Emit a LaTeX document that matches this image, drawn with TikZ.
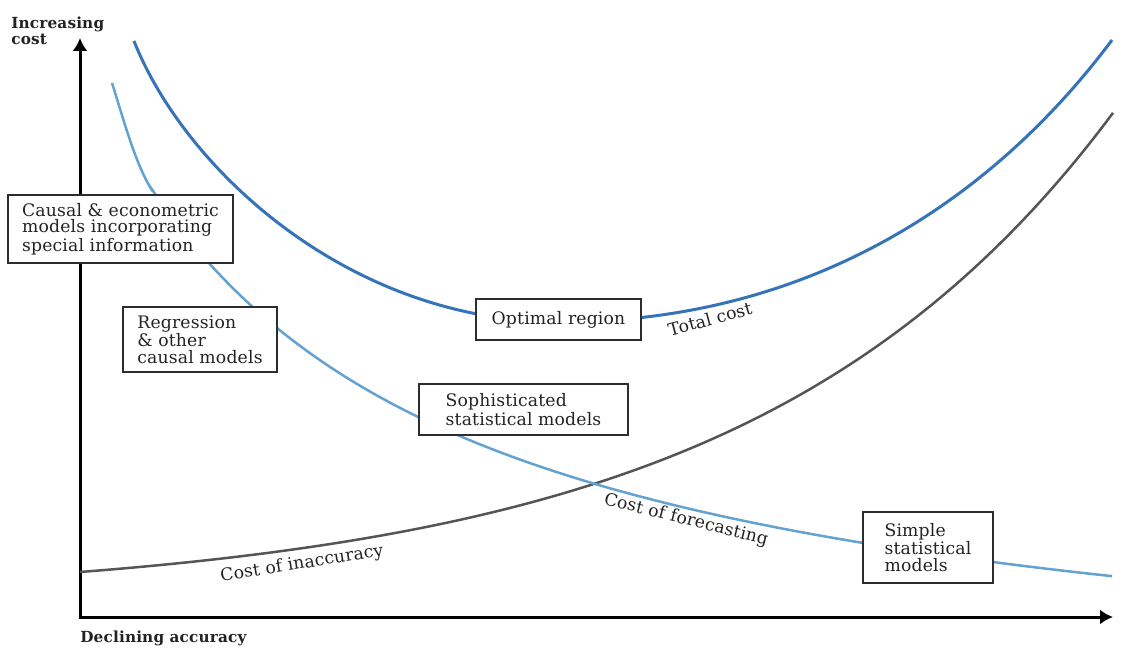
\documentclass[tikz,border=0pt]{standalone}
\usepackage{fontspec}
\setmainfont{DejaVu Serif}[LetterSpace=1.0]
\usetikzlibrary{arrows.meta}
\definecolor{totalblue}{RGB}{55,115,185}
\definecolor{forecastblue}{RGB}{100,162,208}
\definecolor{inaccgray}{RGB}{85,85,85}
\definecolor{boxgray}{RGB}{45,45,45}
\definecolor{inkgray}{RGB}{35,35,35}
\newcommand{\lblfont}{\fontsize{9.8pt}{9.4pt}\selectfont}
\newcommand{\axlblfont}{\fontsize{8.7pt}{7.3pt}\selectfont\bfseries}
\tikzset{
  modelbox/.style={draw=boxgray, line width=0.04cm, fill=white, align=left,
    inner sep=0pt, text=inkgray, font=\lblfont},
  curvelabel/.style={inner sep=0pt, text=inkgray, font=\lblfont},
  axislabel/.style={inner sep=0pt, align=left, text=inkgray, font=\axlblfont},
  axisline/.style={line width=0.06cm, -{Latex[length=0.26cm,width=0.3cm]}},
  totalcurve/.style={totalblue, line width=0.06cm},
  forecastcurve/.style={forecastblue, line width=0.05cm},
  inaccuracycurve/.style={inaccgray, line width=0.05cm}
}

\begin{document}
\begin{tikzpicture}[x=0.02cm, y=-0.02cm]
  %%%%% START %%%%%
  \useasboundingbox[fill=white] (0, 0) rectangle (1136, 648);

  % axes
  \coordinate (origin) at (80, 617);
  \coordinate (ytip) at (80, 38);
  \coordinate (xtip) at (1113, 617);
  \draw[axisline] ([yshift=-0.03cm]origin) -- (ytip);
  \draw[axisline] ([xshift=-0.03cm]origin) -- (xtip);

  \node[axislabel, anchor=north west] (costlabel) at (11, 17) {Increasing\\cost};
  \node[axislabel, anchor=base west] (accuracylabel) at (80, 642) {Declining accuracy};

  % curves
  \draw[inaccuracycurve] plot[domain=80:1113, samples=80, smooth]
    (\x, {600.1-28.1*exp(0.002762*(\x-80))});

  \draw[forecastcurve] (112, 83) .. controls (122, 114) and (134, 160) .. (150, 187)
    -- plot[domain=150:1112, samples=80, smooth] (\x, {718-1860/(0.01*\x+2)});

  \draw[totalcurve] (134, 41) .. controls (185, 170) and (350, 322) .. (560, 322)
    .. controls (820, 322) and (1000, 190) .. (1112, 40);

  % boxes
  \node[modelbox, minimum width=4.5cm, minimum height=1.36cm] (causal) at (120.5, 229)
    {Causal \& econometric\\models incorporating\\special information};
  \node[modelbox, minimum width=3.08cm, minimum height=1.3cm] (regression) at (200, 339.5)
    {Regression\\\& other\\causal models};
  \node[modelbox, minimum width=3.3cm, minimum height=0.82cm] (optimal) at (558.5, 319.5)
    {Optimal region};
  \node[modelbox, minimum width=4.18cm, minimum height=1.02cm] (sophisticated) at (523.5, 409.5)
    {Sophisticated\\statistical models};
  \node[modelbox, minimum width=2.6cm, minimum height=1.42cm] (simple) at (928, 547.5)
    {Simple\\statistical\\models};

  % curve names
  \node[curvelabel, rotate=15] (totallabel) at (710, 319) {Total cost};
  \node[curvelabel, rotate=-14] (forecastlabel) at (686, 520) {Cost of forecasting};
  \node[curvelabel, rotate=9] (inaccuracylabel) at (302, 564) {Cost of inaccuracy};
  %%%%% END %%%%%
\end{tikzpicture}
\end{document}
